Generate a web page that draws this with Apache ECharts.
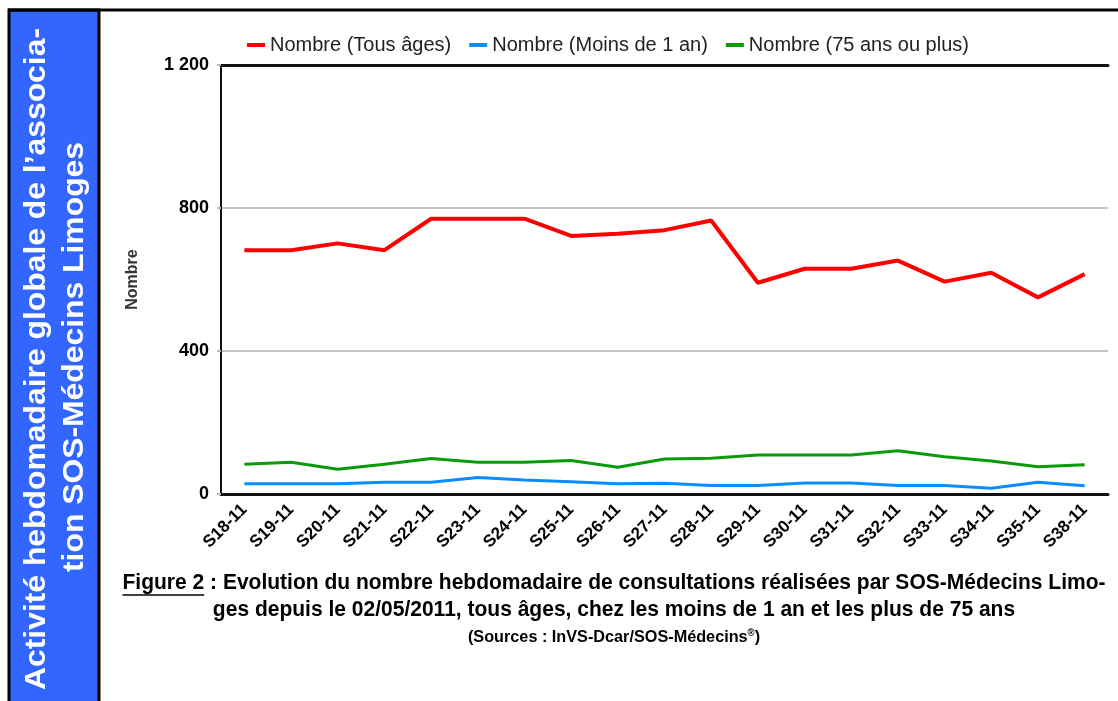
<!DOCTYPE html>
<html>
<head>
<meta charset="utf-8">
<script src="https://cdn.jsdelivr.net/npm/echarts@6/dist/echarts.min.js"></script>
<style>
html,body{margin:0;padding:0;background:#fff;}
#chart{width:1118px;height:701px;}
</style>
</head>
<body>
<div id="chart"></div>
<script>
const categories = ['S18-11','S19-11','S20-11','S21-11','S22-11','S23-11','S24-11','S25-11','S26-11','S27-11','S28-11','S29-11','S30-11','S31-11','S32-11','S33-11','S34-11','S35-11','S38-11'];
const tousAges = [682,682,701,682,770,770,770,722,728,738,765,591,630,630,653,594,619,550,615];
const moins1an = [29,29,29,33,33,46,39,34,29,30,24,24,31,31,24,24,16,33,23];
const plus75 = [83,89,69,83,99,89,89,94,75,98,100,109,109,109,121,104,92,76,82];
const seriesNames = ['Nombre (Tous âges)','Nombre (Moins de 1 an)','Nombre (75 ans ou plus)'];
const yTicks = [0,400,800,1200];

const captionLine1Head = 'Figure 2';
const captionLine1Tail = ' : Evolution du nombre hebdomadaire de consultations réalisées par SOS-Médecins Limo-';
const captionLine2 = 'ges depuis le 02/05/2011, tous âges, chez les moins de 1 an et les plus de 75 ans';
const captionLine3 = '(Sources : InVS-Dcar/SOS-Médecins';
const sideLine1 = 'Activité hebdomadaire globale de l’associa-';
const sideLine2 = 'tion SOS-Médecins Limoges';

const capFont = 'bold 22px "Liberation Sans", Arial, sans-serif';
const sideFont = 'bold 29px "Liberation Sans", Arial, sans-serif';
const cv = document.createElement('canvas').getContext('2d');
cv.font = capFont;
const wHead = cv.measureText(captionLine1Head).width;
const wFull = cv.measureText(captionLine1Head + captionLine1Tail).width;
const capScale = 983 / wFull;
const capCx = 614;
const capStart = capCx - 983 / 2;
cv.font = sideFont;
const sideScale = 662 / cv.measureText(sideLine1).width;

const chart = echarts.init(document.getElementById('chart'));
chart.setOption({
  animation: false,
  backgroundColor: '#fff',
  legend: {
    top: 30,
    left: 242,
    itemWidth: 18,
    itemHeight: 4,
    itemGap: 18,
    icon: 'rect',
    textStyle: {fontFamily: 'Liberation Sans, Arial, sans-serif', fontSize: 20, color: '#222'},
    data: seriesNames
  },
  grid: {left: 221, right: 10, top: 65, bottom: 207, containLabel: false},
  xAxis: [{
    type: 'category',
    data: categories,
    boundaryGap: true,
    axisLine: {lineStyle: {color: '#111', width: 3}},
    axisTick: {alignWithLabel: true, length: 6, lineStyle: {color: '#111', width: 2}},
    axisLabel: {rotate: 45, fontFamily: 'Liberation Sans, Arial, sans-serif', fontWeight: 'bold', fontSize: 17, color: '#000', margin: 13, interval: 0}
  }, {
    type: 'category',
    data: categories,
    position: 'top',
    boundaryGap: true,
    axisLine: {lineStyle: {color: '#111', width: 3}},
    axisTick: {show: false},
    axisLabel: {show: false}
  }],
  yAxis: {
    type: 'value',
    min: 0, max: 1200, interval: 400,
    name: 'Nombre',
    nameLocation: 'middle',
    nameGap: 80,
    nameRotate: 90,
    nameTextStyle: {fontFamily: 'Liberation Sans, Arial, sans-serif', fontWeight: 'bold', fontSize: 16, color: '#333'},
    axisLine: {show: true, lineStyle: {color: '#111', width: 2}},
    axisTick: {show: true, length: 4, lineStyle: {color: '#bbb', width: 2}},
    axisLabel: {
      fontFamily: 'Liberation Sans, Arial, sans-serif', fontWeight: 'bold', fontSize: 18, color: '#000', margin: 12,
      formatter: v => String(v).replace(/\B(?=(\d{3})+(?!\d))/g, ' ')
    },
    splitLine: {lineStyle: {color: '#c4c4c4', width: 2}}
  },
  series: [
    {name: seriesNames[0], type: 'line', data: tousAges, symbol: 'none', lineStyle: {color: '#ff0000', width: 4}, itemStyle: {color: '#ff0000'}},
    {name: seriesNames[1], type: 'line', data: moins1an, symbol: 'none', lineStyle: {color: '#0a8cff', width: 3}, itemStyle: {color: '#0a8cff'}},
    {name: seriesNames[2], type: 'line', data: plus75, symbol: 'none', lineStyle: {color: '#0a9a0a', width: 3}, itemStyle: {color: '#0a9a0a'}}
  ],
  graphic: [
    {type: 'rect', shape: {x: 9, y: 10, width: 90, height: 700}, style: {fill: '#3366ff', stroke: '#000', lineWidth: 3}, z: 10},
    {type: 'line', shape: {x1: 8, y1: 10, x2: 1118, y2: 10}, style: {stroke: '#000', lineWidth: 3}, z: 11},
    {type: 'text', x: 37, y: 359, rotation: Math.PI / 2, scaleX: sideScale, z: 12,
      style: {text: sideLine1, fill: '#fff', font: sideFont, textAlign: 'center', textVerticalAlign: 'middle'}},
    {type: 'text', x: 75, y: 357, rotation: Math.PI / 2, scaleX: sideScale, z: 12,
      style: {text: sideLine2, fill: '#fff', font: sideFont, textAlign: 'center', textVerticalAlign: 'middle'}},
    {type: 'text', x: capCx, y: 583, scaleX: capScale, z: 12,
      style: {text: captionLine1Head + captionLine1Tail, fill: '#000', font: capFont, textAlign: 'center', textVerticalAlign: 'middle'}},
    {type: 'line', shape: {x1: capStart, y1: 595, x2: capStart + wHead * capScale, y2: 595}, style: {stroke: '#000', lineWidth: 1.5}, z: 12},
    {type: 'text', x: capCx, y: 610, scaleX: capScale, z: 12,
      style: {text: captionLine2, fill: '#000', font: capFont, textAlign: 'center', textVerticalAlign: 'middle'}},
    {type: 'text', x: 614, y: 637, scaleX: capScale, z: 12,
      style: {text: '{a|' + captionLine3 + '}{s|®}{a|)}', textAlign: 'center', textVerticalAlign: 'middle',
        rich: {
          a: {fontFamily: 'Liberation Sans, Arial, sans-serif', fontWeight: 'bold', fontSize: 17, color: '#000'},
          s: {fontFamily: 'Liberation Sans, Arial, sans-serif', fontWeight: 'bold', fontSize: 10, color: '#000', verticalAlign: 'top', padding: [0,0,6,0]}
        }}}
  ]
});
</script>
</body>
</html>
